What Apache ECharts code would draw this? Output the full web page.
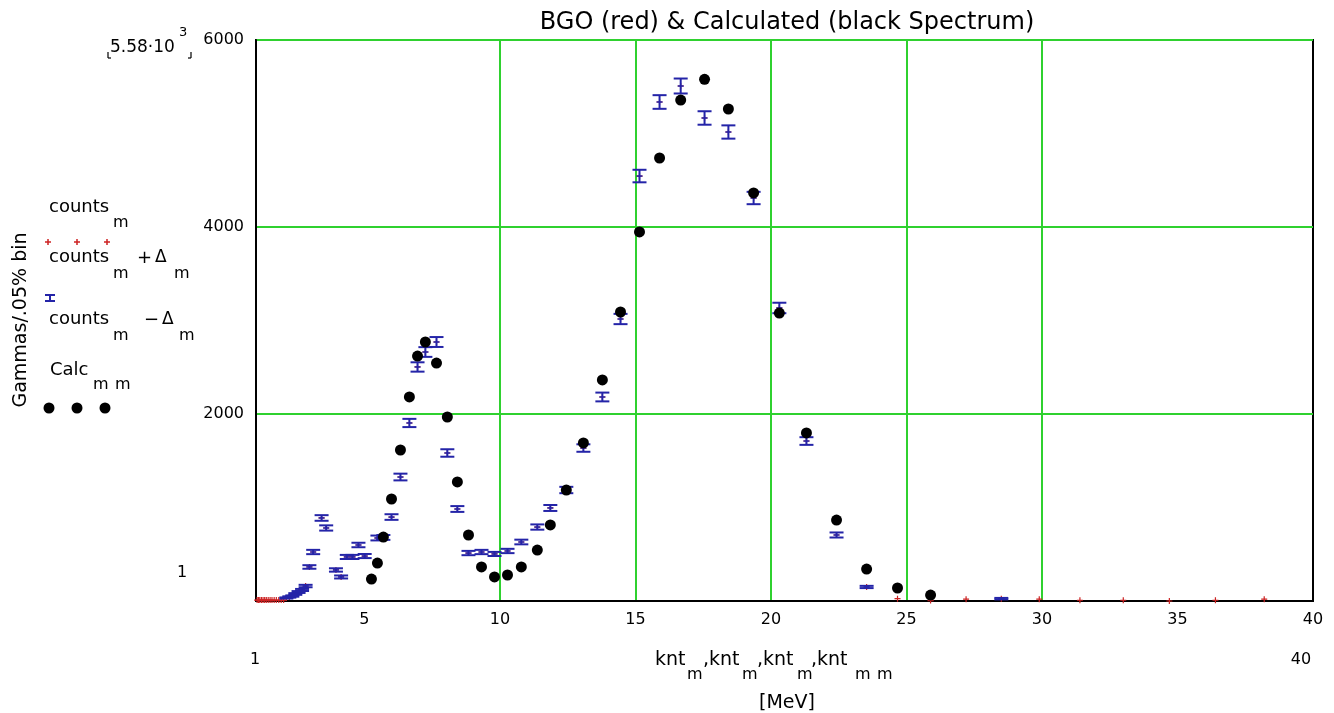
<!DOCTYPE html>
<html><head><meta charset="utf-8">
<script src="https://cdn.jsdelivr.net/npm/echarts@6/dist/echarts.min.js"></script>
<style>html,body{margin:0;padding:0;background:#fff}#c{width:1334px;height:713px}</style>
</head><body><div id="c"></div>
<script>
// Energy bins knt (MeV)
const knt = [1.04,1.09,1.14,1.20,1.26,1.32,1.38,1.45,1.52,1.59,1.67,1.75,1.84,1.93,2.02,
  2.12,2.23,2.34,2.45,2.57,2.70,2.83,2.97,3.11,3.26,3.42,3.59,3.77,3.95,4.14,4.35,4.56,4.78,5.01,
  5.26,5.48,5.70,6.00,6.33,6.66,6.96,7.25,7.66,8.06,8.43,8.84,9.32,9.80,10.28,10.79,11.38,11.86,
  12.45,13.08,13.78,14.45,15.15,15.89,16.67,17.55,18.43,19.36,20.31,21.31,22.42,23.53,24.67,25.89,
  27.20,28.50,29.90,31.40,33.00,34.70,36.40,38.20];
// BGO measured counts (null = not visible)
const counts = [10,10,10,10,10,10,10,10,10,10,10,10,10,10,10,
  32,43,53,75,96,118,160,364,524,null,888,781,null,332,257,471,471,599,481,
  null,674,680,898,1326,1904,2503,2663,2770,1583,984,513,524,503,535,631,791,995,
  1187,1636,2182,3016,4545,5337,5508,5166,5016,4310,3134,1711,706,150,25,5,
  20,25,20,8,8,0,8,20];
// Error half-widths (null = no bar drawn)
const delta = [null,null,null,null,null,null,null,null,null,null,null,null,null,null,null,
  6,7,7,9,10,11,13,19,23,null,30,28,null,18,16,22,22,24,22,
  null,26,26,30,36,44,50,52,53,40,31,23,23,22,23,25,28,32,
  34,40,47,55,67,73,80,72,71,66,56,41,27,12,null,null,
  null,8,null,null,null,null,null,null];
// Calculated spectrum (null = not drawn)
const calc = [null,null,null,null,null,null,null,null,null,null,null,null,null,null,null,
  null,null,null,null,null,null,null,null,null,null,null,null,null,null,null,null,null,null,null,
  235,406,684,1091,1615,2182,2620,2770,2545,1968,1273,706,364,257,278,364,545,813,
  1187,1690,2364,3091,3947,4738,5358,5580,5262,4364,3080,1797,866,342,139,64,
  null,null,null,null,null,null,null,null];
const xTickValues = [5,10,15,20,25,30,35];
const xLabelValues = [5,10,15,20,25,30,35,40];
const yLabelValues = [2000,4000,6000];

const F = "'DejaVu Sans', sans-serif";
const green = '#2fd12f';
const barColor = '#2424a8';

const countsData = knt.map((k,i)=> counts[i]==null ? null : [k,counts[i]]).filter(Boolean);
const errData = knt.map((k,i)=> (delta[i]==null||counts[i]==null) ? null : [k, counts[i]-delta[i], counts[i]+delta[i], counts[i]]).filter(Boolean);
const calcData = knt.map((k,i)=> calc[i]==null ? null : [k, calc[i]]).filter(Boolean);

function txt(x,y,text,size,opts){
  return {type:'text', silent:true, style:Object.assign({x:x,y:y,text:text,font:size+'px '+F,fill:'#000',textAlign:'left',textVerticalAlign:'middle'}, opts||{})};
}
function ln(x1,y1,x2,y2,color,w){
  return {type:'line',silent:true,shape:{x1:x1,y1:y1,x2:x2,y2:y2},style:{stroke:color,lineWidth:w}};
}
const graphics = [
  txt(787,23,'BGO (red) & Calculated (black Spectrum)',24,{textAlign:'center'}),
  // y axis title
  {type:'text', silent:true, x:21, y:320, rotation:Math.PI/2, style:{x:0,y:0,text:'Gammas/.05% bin',font:'19px '+F,fill:'#000',textAlign:'center',textVerticalAlign:'middle'}},
  // marker label
  txt(110,48,'5.58·10',17),
  txt(179,33,'3',13),
  ln(108,52,108,58,'#000',1.2), ln(108,58,111,58,'#000',1.2),
  ln(191,52,191,58,'#000',1.2), ln(188,58,191,58,'#000',1.2),
  txt(182,573,'1',16,{textAlign:'center'}),
  txt(255,660,'1',16,{textAlign:'center'}),
  txt(1301,660,'40',16,{textAlign:'center'}),
  // x axis title
  txt(655,660,'knt',19), txt(687,675,'m',16),
  txt(703,660,',knt',19), txt(742,675,'m',16),
  txt(757,660,',knt',19), txt(797,675,'m',16),
  txt(811,660,',knt',19), txt(855,675,'m',16), txt(877,675,'m',16),
  txt(787,703,'[MeV]',19,{textAlign:'center'}),
  // legend text
  txt(49,207,'counts',18), txt(113,223,'m',16),
  txt(49,257,'counts',18), txt(113,274,'m',16), txt(137,258,'+',18), txt(155,258,'Δ',17), txt(174,274,'m',16),
  txt(49,319,'counts',18), txt(113,336,'m',16), txt(144,320,'−',18), txt(162,320,'Δ',17), txt(179,336,'m',16),
  txt(50,370,'Calc',18), txt(93,385,'m',16), txt(115,385,'m',16)
];
// legend icons
[48,77,107].forEach(x=>{
  graphics.push(ln(x-3,242,x+3,242,'#cc2222',1.5));
  graphics.push(ln(x,239,x,245,'#cc2222',1.5));
});
graphics.push(ln(45,295,55,295,barColor,2));
graphics.push(ln(45,301,55,301,barColor,2));
graphics.push(ln(50,295,50,301,barColor,2));
[49,77,105].forEach(x=>{
  graphics.push({type:'circle',silent:true,shape:{cx:x,cy:408,r:5.5},style:{fill:'#000'}});
});

const chart = echarts.init(document.getElementById('c'), null, {renderer:'canvas'});
chart.setOption({
  animation:false,
  backgroundColor:'#fff',
  grid:{left:256,right:21,top:40,bottom:112,show:true,borderColor:'#000',borderWidth:2,backgroundColor:'transparent'},
  xAxis:{type:'value',min:1,max:40,
    axisLine:{show:true,lineStyle:{color:'#000',width:2}},
    axisTick:{show:false,customValues:xTickValues},
    axisLabel:{customValues:xLabelValues,color:'#000',fontFamily:F,fontSize:16,margin:11},
    splitLine:{show:true,showMinLine:false,showMaxLine:false,lineStyle:{color:green,width:2}}},
  yAxis:{type:'value',min:0,max:6000,interval:2000,
    axisLine:{show:true,lineStyle:{color:'#000',width:2}},
    axisTick:{show:false},
    axisLabel:{color:'#000',fontFamily:F,fontSize:16,margin:12,
      formatter:v=> yLabelValues.indexOf(v)>=0 ? String(v) : ''},
    splitLine:{show:true,showMinLine:false,lineStyle:{color:green,width:2}}},
  graphic:graphics,
  series:[
    {type:'scatter',name:'counts',data:countsData,z:2,
      symbol:'path://M-1,-5L1,-5L1,-1L5,-1L5,1L1,1L1,5L-1,5L-1,1L-5,1L-5,-1L-1,-1Z',symbolSize:6,
      itemStyle:{color:'#cc2222',opacity:1},silent:true},
    {type:'custom',name:'err',data:errData,z:3,encode:{x:0,y:[1,2]},silent:true,
      renderItem:function(params,api){
        const x=api.value(0);
        const pLo=api.coord([x,api.value(1)]), pHi=api.coord([x,api.value(2)]), pM=api.coord([x,api.value(3)]);
        const hw=7, st={stroke:barColor,lineWidth:2};
        return {type:'group',children:[
          {type:'line',shape:{x1:pLo[0],y1:pLo[1],x2:pHi[0],y2:pHi[1]},style:st},
          {type:'line',shape:{x1:pLo[0]-hw,y1:pLo[1],x2:pLo[0]+hw,y2:pLo[1]},style:st},
          {type:'line',shape:{x1:pHi[0]-hw,y1:pHi[1],x2:pHi[0]+hw,y2:pHi[1]},style:st},
          {type:'line',shape:{x1:pM[0]-3,y1:pM[1],x2:pM[0]+3,y2:pM[1]},style:{stroke:barColor,lineWidth:1.5}}
        ]};
      }},
    {type:'scatter',name:'Calc',data:calcData,z:4,symbol:'circle',symbolSize:11,
      itemStyle:{color:'#000',opacity:1},silent:true}
  ]
});
</script></body></html>
